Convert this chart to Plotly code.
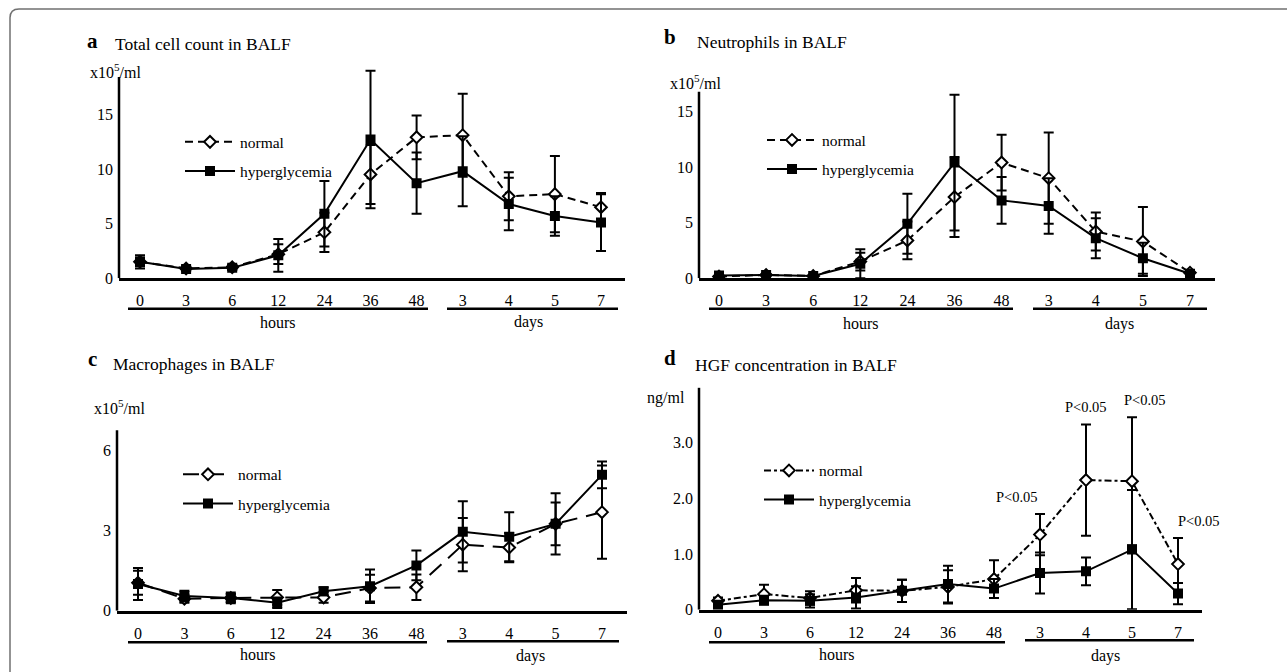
import plotly.graph_objects as go

W, H = 1287, 672
FONT = "Liberation Serif"

# ---------------- data ----------------
categories = ["0", "3", "6", "12", "24", "36", "48", "3", "4", "5", "7"]
xi = list(range(len(categories)))

a_normal = [1.5, 0.9, 1.0, 2.2, 4.2, 9.5, 12.9, 13.1, 7.5, 7.7, 6.5]
a_normal_err = [0.4, 0.2, 0.2, 0.9, 1.8, 2.7, 2.0, 3.8, 2.2, 3.5, 1.3]
a_hyper = [1.5, 0.85, 0.95, 2.1, 5.9, 12.7, 8.7, 9.8, 6.8, 5.7, 5.1]
a_hyper_err = [0.6, 0.2, 0.2, 1.5, 3.0, 6.3, 2.8, 3.2, 2.4, 1.8, 2.6]

b_normal = [0.15, 0.3, 0.2, 1.5, 3.4, 7.3, 10.4, 9.0, 4.2, 3.3, 0.5]
b_normal_err = [0.1, 0.1, 0.1, 0.8, 1.7, 3.6, 2.5, 4.1, 1.7, 3.1, 0.15]
b_hyper = [0.25, 0.3, 0.2, 1.3, 4.9, 10.4, 7.0, 6.5, 3.6, 1.8, 0.4]
b_hyper_err = [0.1, 0.1, 0.1, 1.3, 2.7, 6.1, 2.1, 2.5, 1.8, 1.4, 0.2]

c_normal = [1.05, 0.45, 0.48, 0.5, 0.5, 0.85, 0.88, 2.48, 2.37, 3.26, 3.7]
c_normal_err = [0.45, 0.15, 0.15, 0.28, 0.2, 0.5, 0.48, 1.0, 0.55, 1.15, 1.75]
c_hyper = [1.0, 0.55, 0.48, 0.3, 0.73, 0.92, 1.7, 2.96, 2.78, 3.26, 5.1]
c_hyper_err = [0.6, 0.2, 0.2, 0.2, 0.15, 0.63, 0.56, 1.15, 0.92, 0.8, 0.5]

d_normal = [0.16, 0.28, 0.21, 0.35, 0.34, 0.41, 0.55, 1.35, 2.33, 2.31, 0.82]
d_normal_err = [0.06, 0.17, 0.12, 0.22, 0.2, 0.3, 0.34, 0.37, 1.0, 1.15, 0.47]
d_hyper = [0.09, 0.17, 0.16, 0.22, 0.34, 0.46, 0.38, 0.66, 0.69, 1.08, 0.29]
d_hyper_err = [0.05, 0.08, 0.12, 0.2, 0.2, 0.33, 0.17, 0.37, 0.25, 1.07, 0.19]

p_label_idx = [7, 8, 9, 10]
p_label_text = "P<0.05"

panel_titles = ["Total cell count in BALF", "Neutrophils in BALF",
                "Macrophages in BALF", "HGF concentration in BALF"]
panel_letters = ["a", "b", "c", "d"]
unit_labels = ["x10<sup>5</sup>/ml", "x10<sup>5</sup>/ml", "x10<sup>5</sup>/ml", "ng/ml"]
y_tickvals = [[0, 5, 10, 15], [0, 5, 10, 15], [0, 3, 6], [0, 1, 2, 3]]
y_ticktext = [["0", "5", "10", "15"], ["0", "5", "10", "15"], ["0", "3", "6"],
              ["0", "1.0", "2.0", "3.0"]]
legend_names = ["normal", "hyperglycemia"]

# ---------------- geometry (pixels) ----------------
geo = [
    dict(x0=119, x1=625, c0=140, dx=46.1, y0=282, pu=11.07, top=78, ymax=20,
         dash="8px,5px", hrs=(128, 428, 313, 278, 327), dys=(447, 618, 313, 528, 326),
         letter=(92, 42), title=(113, 45), unit=(88, 72, "left"), leg=(185, 143)),
    dict(x0=699, x1=1215, c0=719, dx=47.1, y0=282, pu=11.27, top=93, ymax=18,
         dash="8px,5px", hrs=(709, 1013, 313, 861, 328), dys=(1033, 1207, 313, 1119, 328),
         letter=(670, 38), title=(695, 43), unit=(668, 83, "left"), leg=(767, 141)),
    dict(x0=117, x1=627, c0=138, dx=46.4, y0=619, pu=27.0, top=436, ymax=7,
         dash="16px,9px", hrs=(128, 427, 651, 258, 663), dys=(447, 619, 650, 530, 665),
         letter=(92, 364), title=(111, 369), unit=(92, 413, "left"), leg=(183, 480)),
    dict(x0=699, x1=1202, c0=718, dx=46.0, y0=618, pu=56.4, top=393, ymax=4,
         dash="7px,3px,3px,3px", hrs=(709, 1005, 651, 837, 663), dys=(1025, 1194, 649, 1105, 665),
         letter=(670, 363), title=(693, 370), unit=(687, 403, "right"), leg=(764, 476)),
]

series = [
    (a_normal, a_normal_err, a_hyper, a_hyper_err),
    (b_normal, b_normal_err, b_hyper, b_hyper_err),
    (c_normal, c_normal_err, c_hyper, c_hyper_err),
    (d_normal, d_normal_err, d_hyper, d_hyper_err),
]


def px(x):
    return x / W


def py(y):
    return 1 - y / H


fig = go.Figure()
shapes = []
annotations = []
layout = {}

for i, (g, (nv, ne, hv, he)) in enumerate(zip(geo, series)):
    n = i + 1
    sfx = "" if n == 1 else str(n)
    xa, ya = "x" + sfx, "y" + sfx
    leg = "legend" + sfx
    err_style = dict(thickness=2, width=5, color="black")
    fig.add_trace(go.Scatter(
        x=xi, y=nv, xaxis=xa, yaxis=ya, name=legend_names[0], legend=leg,
        legendgroup=f"n{n}", mode="lines+markers",
        line=dict(color="black", width=2, dash=g["dash"]),
        marker=dict(symbol="diamond", size=9, color="white",
                    line=dict(color="black", width=2)),
        error_y=dict(type="data", array=ne, visible=True, **err_style)))
    fig.add_trace(go.Scatter(
        x=xi, y=hv, xaxis=xa, yaxis=ya, name=legend_names[1], legend=leg,
        legendgroup=f"h{n}", mode="lines+markers",
        line=dict(color="black", width=2),
        marker=dict(symbol="square", size=10, color="black"),
        error_y=dict(type="data", array=he, visible=True, **err_style)))

    xr = [(g["x0"] - g["c0"]) / g["dx"], (g["x1"] - g["c0"]) / g["dx"]]
    layout["xaxis" + sfx] = dict(
        domain=[px(g["x0"]), px(g["x1"])], range=xr, anchor=ya,
        tickvals=xi, ticktext=categories, showgrid=False, zeroline=False,
        showline=True, linecolor="black", linewidth=2.5, ticks="",
        ticklabelstandoff=6, tickfont=dict(family=FONT, size=16, color="black"),
        fixedrange=True)
    ytop_px = g["y0"] - g["ymax"] * g["pu"]
    layout["yaxis" + sfx] = dict(
        domain=[py(g["y0"]), py(ytop_px)], range=[0, g["ymax"]], anchor=xa,
        tickvals=y_tickvals[i], ticktext=y_ticktext[i], showgrid=False,
        zeroline=False, showline=False, ticks="", ticklabelstandoff=5,
        tickfont=dict(family=FONT, size=16, color="black"), fixedrange=True)
    # y axis line
    shapes.append(dict(type="line", xref=xa + " domain", yref=ya, x0=0, x1=0,
                       y0=0, y1=(g["y0"] - g["top"]) / g["pu"],
                       line=dict(color="black", width=2.5)))
    # hours / days underlines and labels
    for (lx0, lx1, ly, tx, ty), label in ((g["hrs"], "hours"), (g["dys"], "days")):
        shapes.append(dict(type="line", xref="paper", yref="paper",
                           x0=px(lx0), x1=px(lx1), y0=py(ly), y1=py(ly),
                           line=dict(color="black", width=2.5)))
        annotations.append(dict(text=label, xref="paper", yref="paper",
                                x=px(tx), y=py(ty), showarrow=False,
                                xanchor="center", yanchor="middle",
                                font=dict(family=FONT, size=16, color="black")))
    # panel letter + title
    annotations.append(dict(text="<b>" + panel_letters[i] + "</b>", xref="paper",
                            yref="paper", x=px(g["letter"][0]), y=py(g["letter"][1]),
                            showarrow=False, xanchor="center", yanchor="middle",
                            font=dict(family=FONT, size=21, color="black")))
    annotations.append(dict(text=panel_titles[i], xref="paper", yref="paper",
                            x=px(g["title"][0]), y=py(g["title"][1]), showarrow=False,
                            xanchor="left", yanchor="middle",
                            font=dict(family=FONT, size=17.5, color="black")))
    ux, uy, uanc = g["unit"]
    annotations.append(dict(text=unit_labels[i], xref="paper", yref="paper",
                            x=px(ux), y=py(uy), showarrow=False, xanchor=uanc,
                            yanchor="middle",
                            font=dict(family=FONT, size=16, color="black")))
    # legend
    lx, ly = g["leg"]
    layout[leg] = dict(x=px(lx - 5), y=py(ly - 16), xanchor="left", yanchor="top",
                       bgcolor="rgba(0,0,0,0)", borderwidth=0, itemwidth=50,
                       traceorder="grouped", tracegroupgap=6,
                       font=dict(family=FONT, size=15.5, color="black"))

# P<0.05 labels (panel d)
p_xshift = [-23, 0, 13, 21]
for k, idx in enumerate(p_label_idx):
    annotations.append(dict(text=p_label_text, xref="x4", yref="y4", x=idx,
                            y=d_normal[idx] + d_normal_err[idx], yshift=7,
                            xshift=p_xshift[k], showarrow=False, xanchor="center",
                            yanchor="bottom",
                            font=dict(family=FONT, size=14.5, color="black")))

# outer rounded frame
r = 9
path = (f"M {px(10)},{py(700)} L {px(10)},{py(9 + r)} "
        f"Q {px(10)},{py(9)} {px(10 + r)},{py(9)} L {px(1300)},{py(9)}")
shapes.append(dict(type="path", xref="paper", yref="paper", path=path,
                   line=dict(color="#707070", width=1.5)))

fig.update_layout(
    width=W, height=H, margin=dict(l=0, r=0, t=0, b=0),
    paper_bgcolor="white", plot_bgcolor="white",
    shapes=shapes, annotations=annotations, **layout)

fig.write_html("out.html", config={"displayModeBar": False},
               post_script="document.body.style.margin='0';document.body.style.overflow='hidden';")
